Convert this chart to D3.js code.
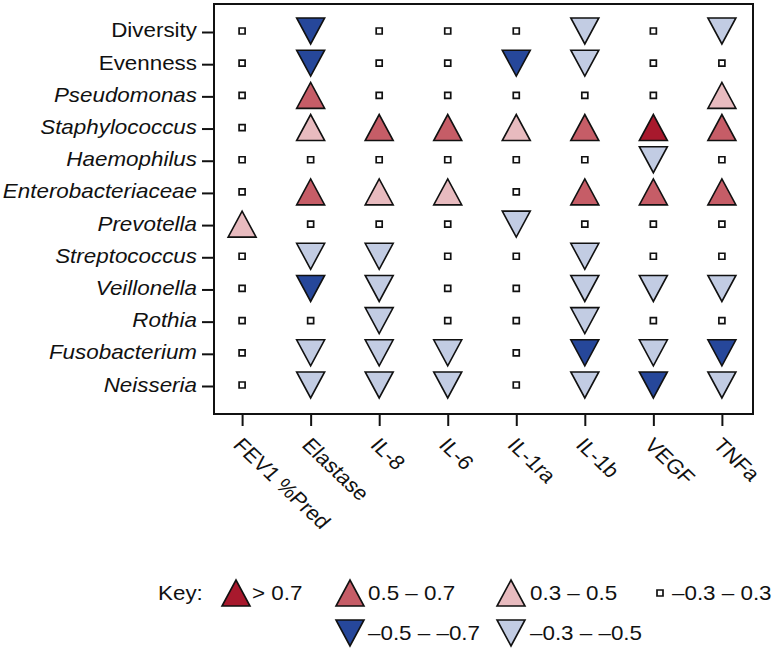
<!DOCTYPE html>
<html>
<head>
<meta charset="utf-8">
<script src="https://cdn.jsdelivr.net/npm/d3@7"></script>
<style>
  html, body { margin: 0; padding: 0; background: #fff; }
  svg { display: block; }
  text { font-family: "Liberation Sans", Arial, Helvetica, sans-serif; fill: #111; }
</style>
</head>
<body>
<svg id="chart" width="776" height="653"></svg>
<script>
// ---------- DATA ----------
const rowLabels = ["Diversity","Evenness","Pseudomonas","Staphylococcus","Haemophilus",
  "Enterobacteriaceae","Prevotella","Streptococcus","Veillonella","Rothia","Fusobacterium","Neisseria"];
const colLabels = ["FEV1 %Pred","Elastase","IL-8","IL-6","IL-1ra","IL-1b","VEGF","TNFa"];

// estimated correlation coefficients (columns in colLabels order)
const diversity          = [ 0.0, -0.6,  0.0,  0.0,  0.0, -0.4,  0.0, -0.4];
const evenness           = [ 0.0, -0.6,  0.0,  0.0, -0.6, -0.4,  0.0,  0.0];
const pseudomonas        = [ 0.0,  0.6,  0.0,  0.0,  0.0,  0.0,  0.0,  0.4];
const staphylococcus     = [ 0.0,  0.4,  0.6,  0.6,  0.4,  0.6,  0.75, 0.6];
const haemophilus        = [ 0.0,  0.0,  0.0,  0.0,  0.0,  0.0, -0.4,  0.0];
const enterobacteriaceae = [ 0.0,  0.6,  0.4,  0.4,  0.0,  0.6,  0.6,  0.6];
const prevotella         = [ 0.4,  0.0,  0.0,  0.0, -0.4,  0.0,  0.0,  0.0];
const streptococcus      = [ 0.0, -0.4, -0.4,  0.0,  0.0, -0.4,  0.0,  0.0];
const veillonella        = [ 0.0, -0.6, -0.4,  0.0,  0.0, -0.4, -0.4, -0.4];
const rothia             = [ 0.0,  0.0, -0.4,  0.0,  0.0, -0.4,  0.0,  0.0];
const fusobacterium      = [ 0.0, -0.4, -0.4, -0.4,  0.0, -0.6, -0.4, -0.6];
const neisseria          = [ 0.0, -0.4, -0.4, -0.4,  0.0, -0.4, -0.6, -0.4];

const rowValues = [diversity, evenness, pseudomonas, staphylococcus, haemophilus,
  enterobacteriaceae, prevotella, streptococcus, veillonella, rothia, fusobacterium, neisseria];

const thresholds = [-0.5, -0.3, 0.3, 0.5, 0.7];
const classes    = ["db", "lb", "sq", "pk", "mr", "dr"];
const legendLabels = {dr: "> 0.7", mr: "0.5 \u2013 0.7", pk: "0.3 \u2013 0.5", sq: "\u20130.3 \u2013 0.3",
                      db: "\u20130.5 \u2013 \u20130.7", lb: "\u20130.3 \u2013 \u20130.5"};

// ---------- STYLE ----------
const fills = {dr: "#a8192d", mr: "#c65d67", pk: "#e8bbbf", sq: "#ffffff", db: "#26479a", lb: "#c2cce3"};
const FS = 20, SX = 1.12;

const svg = d3.select("#chart");
const frame = {x0: 214, x1: 753, y0: 4, y1: 414};

const x = d3.scalePoint().domain(colLabels).range([frame.x0, frame.x1 - 3]).padding(0.41);
const y = d3.scalePoint().domain(rowLabels).range([frame.y0, frame.y1]).padding(0.87);
const cls = d3.scaleThreshold().domain(thresholds).range(classes);

function symbolPath(c) {
  if (c === "sq") return "M-3,-3H3V3H-3Z";
  const w = 14, h = 13;
  if (c === "db" || c === "lb") return `M${-w},${-h}L${w},${-h}L0,${h}Z`;
  return `M${-w},${h}L${w},${h}L0,${-h}Z`;
}

// frame
svg.append("rect")
  .attr("x", frame.x0).attr("y", frame.y0)
  .attr("width", frame.x1 - frame.x0).attr("height", frame.y1 - frame.y0)
  .attr("fill", "none").attr("stroke", "#111").attr("stroke-width", 2);

// y axis
const yAxis = d3.axisLeft(y).tickSize(12).tickSizeOuter(0).tickFormat("");
const ya = svg.append("g").attr("transform", `translate(${frame.x0},0)`).call(yAxis);
ya.select(".domain").remove();
ya.selectAll(".tick line").attr("stroke", "#111").attr("stroke-width", 2);

svg.append("g").selectAll("g").data(rowLabels).join("g")
  .attr("transform", d => `translate(197,${y(d) + 5.5}) scale(${SX},1)`)
  .append("text")
  .attr("text-anchor", "end")
  .attr("font-size", FS)
  .attr("font-style", (d, i) => i >= 2 ? "italic" : "normal")
  .text(d => d);

// x axis
const xAxis = d3.axisBottom(x).tickSize(12).tickSizeOuter(0).tickFormat("");
const xa = svg.append("g").attr("transform", `translate(0,${frame.y1})`).call(xAxis);
xa.select(".domain").remove();
xa.selectAll(".tick line").attr("stroke", "#111").attr("stroke-width", 2);

svg.append("g").selectAll("g").data(colLabels).join("g")
  .attr("transform", d => `translate(${x(d) - 10},${frame.y1 + 32}) scale(${SX},1) rotate(46.8)`)
  .append("text")
  .attr("text-anchor", "start")
  .attr("font-size", FS)
  .text(d => d);

// marks
const cells = [];
rowValues.forEach((vals, i) => vals.forEach((v, j) => cells.push({row: rowLabels[i], col: colLabels[j], v})));

svg.append("g").selectAll("path").data(cells).join("path")
  .attr("transform", d => `translate(${x(d.col)},${y(d.row) - 1})`)
  .attr("d", d => symbolPath(cls(d.v)))
  .attr("fill", d => fills[cls(d.v)])
  .attr("stroke", "#111")
  .attr("stroke-width", d => cls(d.v) === "sq" ? 1.7 : 1.6)
  .attr("stroke-linejoin", "miter");

// legend
const leg = svg.append("g");
leg.append("g").attr("transform", `translate(158,600) scale(${SX},1)`)
  .append("text").attr("font-size", FS).text("Key:");

const legendItems = [
  {c: "dr", sx: 236, tx: 252, row: 0},
  {c: "mr", sx: 350, tx: 368, row: 0},
  {c: "pk", sx: 511, tx: 530, row: 0},
  {c: "sq", sx: 660, tx: 672, row: 0},
  {c: "db", sx: 350, tx: 368, row: 1},
  {c: "lb", sx: 511, tx: 530, row: 1}
];
const rowY = [593, 633];
const li = leg.selectAll("g.item").data(legendItems).join("g").attr("class", "item");
li.append("path")
  .attr("transform", d => `translate(${d.sx},${rowY[d.row]})`)
  .attr("d", d => symbolPath(d.c))
  .attr("fill", d => fills[d.c])
  .attr("stroke", "#111")
  .attr("stroke-width", d => d.c === "sq" ? 1.7 : 1.6);
li.append("g")
  .attr("transform", d => `translate(${d.tx},${rowY[d.row] + 7}) scale(${SX},1)`)
  .append("text").attr("font-size", FS).text(d => legendLabels[d.c]);
</script>
</body>
</html>
